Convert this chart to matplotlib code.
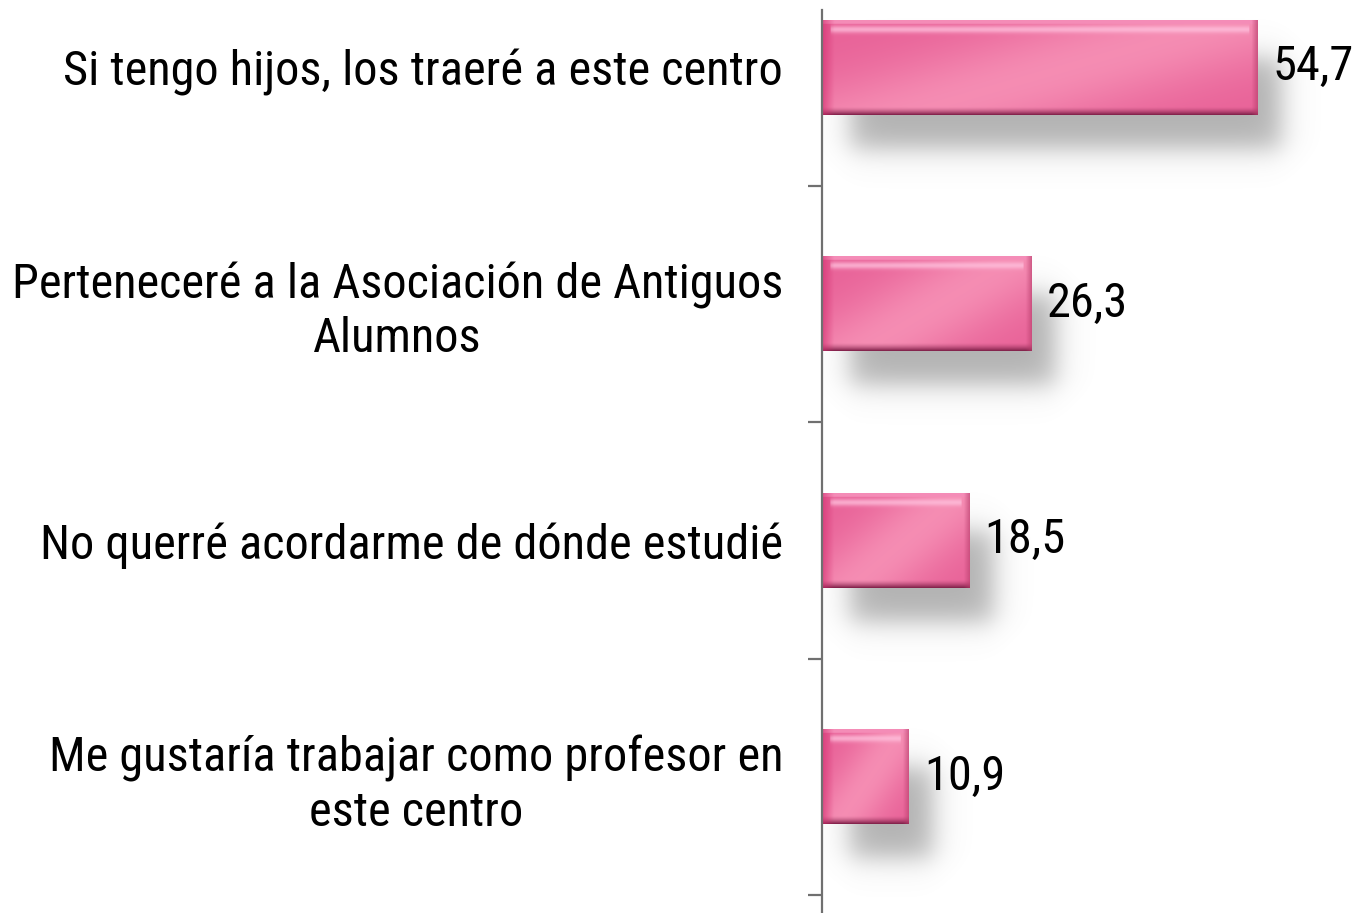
import matplotlib.pyplot as plt
import numpy as np
from matplotlib import font_manager

names = {f.name for f in font_manager.fontManager.ttflist}
fam = [f for f in ['Liberation Sans Narrow', 'Arial Narrow', 'Roboto Condensed',
                   'Liberation Sans', 'DejaVu Sans'] if f in names]
plt.rcParams['font.family'] = fam

labels = ["Si tengo hijos, los traeré a este centro",
          "Perteneceré a la Asociación de Antiguos\nAlumnos",
          "No querré acordarme de dónde estudié",
          "Me gustaría trabajar como profesor en\neste centro"]
values = [54.7, 26.3, 18.5, 10.9]

W, H = 1359, 913
fig = plt.figure(figsize=(W / 100, H / 100), dpi=100)
ax = fig.add_axes([822 / W, 0, 533 / W, 964 / H])
ax.set_xlim(0, 67)
ax.set_ylim(3.576, -0.5)

# pick a font size so the widest label line is about 773 px wide
probe = fig.text(0, 0, "Perteneceré a la Asociación de Antiguos", fontsize=33)
wpx_probe = probe.get_window_extent(fig.canvas.get_renderer()).width
probe.remove()
fs = min(36, 33 * 773 / wpx_probe)

pos = np.arange(len(values))
bars = ax.barh(pos, values, height=0.4, color='none', zorder=2)

# px -> data units
px_x = 67 / 533
px_y = 4.076 / 964


def sig(z):
    return 1 / (1 + np.exp(-z))


for rect in bars:
    x0, y0 = rect.get_x(), rect.get_y()
    w, h = rect.get_width(), rect.get_height()

    # soft drop shadow
    sx0, sx1 = x0 + 28 * px_x, x0 + w + 24 * px_x
    sy0, sy1 = y0 + 38 * px_y, y0 + h + 34 * px_y
    gx = np.linspace(sx0 - 50 * px_x, sx1 + 50 * px_x, 300)
    gy = np.linspace(sy0 - 50 * px_y, sy1 + 50 * px_y, 140)
    XX, YY = np.meshgrid(gx, gy)
    s = 8.0
    a = (sig((XX - sx0) / (s * px_x)) * sig((sx1 - XX) / (s * px_x)) *
         sig((YY - sy0) / (s * px_y)) * sig((sy1 - YY) / (s * px_y)))
    img = np.zeros((len(gy), len(gx), 4))
    img[..., :3] = 0.5
    img[..., 3] = a * 0.6
    ax.imshow(img, extent=(gx[0], gx[-1], gy[-1], gy[0]), aspect='auto',
              interpolation='bilinear', zorder=1)

    # glossy pink fill
    nx, ny = 300, 100
    u = np.linspace(0, 1, nx)[None, :]
    v = np.linspace(0, 1, ny)[:, None]
    wpx = w / px_x
    hpx = h / px_y
    upx = u * wpx
    vpx = v * hpx
    dark = np.array([0.88, 0.28, 0.53])
    light = np.array([0.97, 0.58, 0.72])
    diag = u * 0.8 + v * 0.6
    band = np.exp(-((diag - 0.75) / 0.35) ** 2)
    t = 0.35 + 0.55 * band
    col = dark[None, None, :] + (light - dark)[None, None, :] * t[..., None]
    # top highlight
    hl = np.exp(-((vpx - 9) / 3.5) ** 2) * (upx > 8) * (upx < wpx - 8)
    col = col + (np.array([1.0, 0.76, 0.87]) - col) * (0.75 * hl)[..., None]
    te = (vpx < 3)
    col = np.where(te[..., None], np.array([0.96, 0.55, 0.72]), col)
    # bottom dark edge
    be = np.clip((vpx - (hpx - 8)) / 8, 0, 1)
    col = col + (np.array([0.52, 0.14, 0.30]) - col) * (be ** 1.5)[..., None]
    # left / right edges
    le = np.clip(1 - upx / 12, 0, 1)
    col = col + (np.array([0.82, 0.16, 0.42]) - col) * (0.6 * le)[..., None]
    re = np.clip((upx - (wpx - 6)) / 6, 0, 1)
    col = col + (np.array([0.72, 0.24, 0.42]) - col) * (0.6 * re)[..., None]
    col = np.clip(col, 0, 1)
    ax.imshow(col, extent=(x0, x0 + w, y0 + h, y0), aspect='auto',
              interpolation='bilinear', zorder=2)

    ax.annotate(f"{w:.1f}".replace('.', ','), (x0 + w, y0 + h / 2),
                xytext=(11, 0), textcoords='offset points',
                ha='left', va='center', fontsize=fs, color='black')

ax.set_xlim(0, 67)
ax.set_ylim(3.576, -0.5)

for side in ['top', 'right', 'bottom']:
    ax.spines[side].set_visible(False)
ax.spines['left'].set_color('#707070')
ax.spines['left'].set_linewidth(1.6)
ax.spines['left'].set_bounds(-0.242, 3.576)
ax.set_xticks([])
ax.set_yticks(pos)
ax.set_yticklabels(labels, fontsize=fs, multialignment='center',
                   linespacing=1.2)
ax.tick_params(axis='y', which='major', length=0, pad=28)
ax.set_yticks(np.arange(len(values)) + 0.5, minor=True)
ax.tick_params(axis='y', which='minor', length=10, width=1.6, color='#707070')
ax.patch.set_alpha(0)

fig.savefig('out.png', dpi=100)
